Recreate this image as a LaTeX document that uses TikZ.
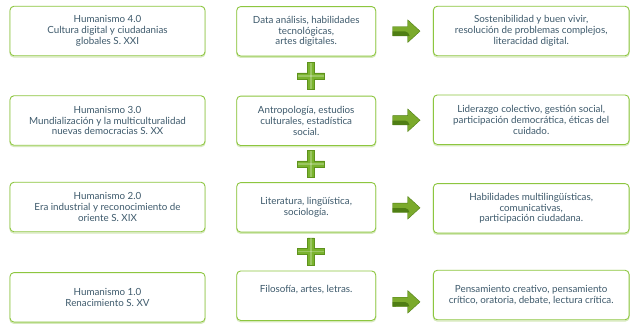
\documentclass[tikz,border=0pt]{standalone}
\usepackage{fontspec}
\setmainfont{Lato}
\usetikzlibrary{calc}
\definecolor{boxgreen}{HTML}{8DC63F}
\definecolor{shadowgreen}{HTML}{D6E9BC}
\definecolor{textblue}{HTML}{3E5A6C}
\definecolor{plusgreen}{HTML}{7AB32E}
\definecolor{plusdark}{HTML}{5E921C}
\definecolor{arrowlight}{HTML}{7BAA2C}
\definecolor{arrowdark}{HTML}{4F7E14}
\tikzset{
  box/.style={draw=boxgreen, line width=0.9bp, rounded corners=4bp, fill=white,
    text=textblue, align=center, inner sep=0pt, minimum height=49.5bp,
    font=\fontsize{9.8bp}{10.9bp}\selectfont,
    preaction={draw=shadowgreen, line width=1.2bp, transform canvas={yshift=-1.3bp}}},
  lbox/.style={box, minimum width=195bp},
  mbox/.style={box, minimum width=139bp},
  rbox/.style={box, minimum width=195.7bp},
}
\newcommand{\plussign}[1]{%
  \begin{scope}[shift={(#1)}]
    \fill[plusgreen, draw=plusdark, line width=0.5bp]
      (-3.3,-13.6) -- (3.3,-13.6) -- (3.3,-3.2) -- (13.6,-3.2) -- (13.6,3.2) -- (3.3,3.2)
      -- (3.3,13.6) -- (-3.3,13.6) -- (-3.3,3.2) -- (-13.6,3.2) -- (-13.6,-3.2) -- (-3.3,-3.2) -- cycle;
    \fill[white, opacity=0.25] (-13.2,-0.6) rectangle (13.2,0.6);
    \fill[white, opacity=0.25] (-0.6,-13.2) rectangle (0.6,13.2);
  \end{scope}}
\newcommand{\blockarrow}[1]{%
  \begin{scope}[shift={(#1)}]
    \fill[arrowlight, draw=arrowdark, line width=0.4bp]
      (-13.6,-4.65) -- (1.4,-4.65) -- (1.4,-11.3) -- (13.7,0) -- (1.4,11.3) -- (1.4,4.65)
      -- (-13.6,4.65) -- cycle;
    \fill[arrowdark] (-13.6,0.3) -- (-1.0,0.3) .. controls (1.2,0.3) and (2.6,2.4) .. (3.2,4.6)
      -- (-13.6,4.65) -- cycle;
  \end{scope}}
\begin{document}
\begin{tikzpicture}[x=1bp, y=-1bp]
\path[use as bounding box, fill=white] (0,0) rectangle (640,330);

\node[lbox] (L1) at (107.5,31) {Humanismo 4.0\\Cultura digital y ciudadanias\\globales S. XXI};
\node[lbox] (L2) at (107.5,120.5) {Humanismo 3.0\\Mundialización y la multiculturalidad\\nuevas democracias S. XX};
\node[lbox] (L3) at (107.5,207) {Humanismo 2.0\\Era industrial y reconocimiento de\\oriente S. XIX};
\node[lbox] (L4) at (107.5,297.3) {Humanismo 1.0\\Renacimiento S. XV};

\node[mbox] (M1) at (306.2,31.3) {Data análisis, habilidades\\tecnológicas,\\artes digitales.};
\node[mbox] (M2) at (306.2,120.8) {Antropología, estudios\\culturales, estadística\\social.};
\node[mbox] (M3) at (306.2,207.3) {Literatura, lingüística,\\sociología.};
\node[mbox] (M4) at (306.2,295.7) {Filosofía, artes, letras.\\[2bp]};

\node[rbox] (R1) at (531.2,31) {Sostenibilidad y buen vivir,\\resolución de problemas complejos,\\literacidad digital.};
\node[rbox] (R2) at (531.2,119.7) {Liderazgo colectivo, gestión social,\\participación democrática, éticas del\\cuidado.};
\node[rbox] (R3) at (531.2,208.3) {Habilidades multilingüísticas,\\comunicativas,\\participación ciudadana.};
\node[rbox] (R4) at (531.2,295) {Pensamiento creativo, pensamiento\\crítico, oratoria, debate, lectura crítica.};

\coordinate (P1) at ($(M1.south)!0.5!(M2.north)+(4.8,0)$);
\coordinate (P2) at ($(M2.south)!0.5!(M3.north)+(4.8,0)$);
\coordinate (P3) at ($(M3.south)!0.5!(M4.north)+(4.8,0)$);
\plussign{P1}
\plussign{P2}
\plussign{P3}

\coordinate (A1) at ($(M1.east)!0.5!(R1.west)+(1.8,0)$);
\coordinate (A2) at ($(M2.east)!0.5!(R2.west)+(1.8,0)$);
\coordinate (A3) at ($(M3.east)!0.5!(R3.west)+(1.8,0)$);
\coordinate (A4) at ($(M4.east)!0.5!(R4.west)+(1.8,6.5)$);
\blockarrow{A1}
\blockarrow{A2}
\blockarrow{A3}
\blockarrow{A4}
\end{tikzpicture}
\end{document}
